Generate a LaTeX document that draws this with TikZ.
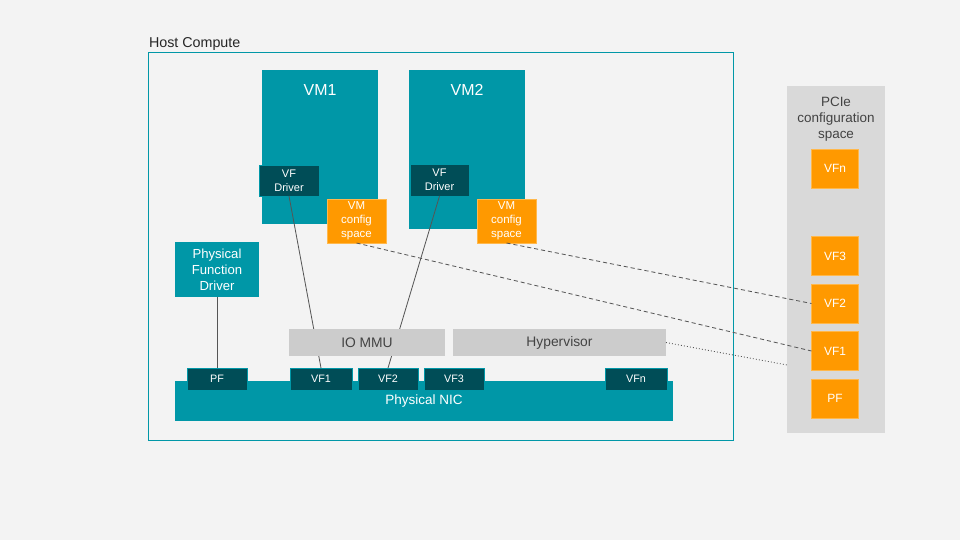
\documentclass[tikz,border=0pt]{standalone}
\usepackage{fontspec}
\setmainfont{Liberation Sans}
\usetikzlibrary{positioning}
\definecolor{nicteal}{RGB}{0,151,167}
\definecolor{darkteal}{RGB}{0,77,87}
\definecolor{cfgorange}{RGB}{255,153,0}
\definecolor{lightgrey}{RGB}{204,204,204}
\definecolor{panelgrey}{RGB}{217,217,217}
\definecolor{pagegrey}{RGB}{243,243,243}
\definecolor{wiregrey}{RGB}{85,85,85}
\definecolor{labelgrey}{RGB}{67,67,67}

\begin{document}
\begin{tikzpicture}[x=0.03cm, y=-0.03cm, inner sep=0pt, outer sep=0pt,
    font=\fontsize{11.5}{13.6}\selectfont,
    box/.style 2 args={rectangle, minimum width=#1*0.03cm, minimum height=#2*0.03cm},
    tealbox/.style={fill=nicteal, text=white, align=center},
    portbox/.style={fill=darkteal, draw=nicteal, line width=0.6pt, text=white, align=center},
    cfgbox/.style={fill=cfgorange, draw=cfgorange!70, line width=0.4pt, text=white, align=center},
    greybox/.style={fill=lightgrey, text=labelgrey, font=\fontsize{11.8}{14}\selectfont},
    wire/.style={draw=wiregrey, line width=0.7pt},
    cfglink/.style={draw=wiregrey, line width=0.7pt, dash pattern=on 3.5pt off 2.5pt},
    hyplink/.style={draw=wiregrey, line width=0.7pt, dash pattern=on 0.8pt off 1.8pt}]
                % Page
                \fill[pagegrey] (0,0) rectangle (960,540);
                % Host Compute frame
                \node[box={585}{388}, draw=nicteal, line width=0.8pt] (host) at (440.5,246) {};
                \node[anchor=base west, font=\fontsize{12.2}{14}\selectfont, text=black!85] (hostlbl) at (149,48) {Host Compute};

                % Virtual machines
                \node[box={116}{154}, tealbox] (vm1) at (320,147) {};
                \node[box={116}{159}, tealbox] (vm2) at (467,149.5) {};
                \node[font=\fontsize{13.6}{16}\selectfont, text=white] (vm1lbl) at (320,90) {VM1};
                \node[font=\fontsize{13.6}{16}\selectfont, text=white] (vm2lbl) at (467,90) {VM2};
                \node[box={60}{31}, portbox, font=\fontsize{9.4}{11.6}\selectfont] (drv1) at (289,180.5) {VF\\Driver};
                \node[box={59}{32}, portbox, font=\fontsize{9.4}{11.6}\selectfont] (drv2) at (439.5,180) {VF\\Driver};
                \node[box={59}{44}, cfgbox, font=\fontsize{9.8}{11.9}\selectfont] (cfg1) at (356.5,221) {VM\\config\\space};
                \node[box={59}{44}, cfgbox, font=\fontsize{9.8}{11.9}\selectfont] (cfg2) at (506.5,221) {VM\\config\\space};

                % PF driver and NIC
                \node[box={84}{55}, tealbox, font=\fontsize{11.2}{13.6}\selectfont] (pfd) at (217,269.5) {Physical\\Function\\Driver};
                \node[box={498}{40}, tealbox] (nic) at (424,401) {};
                \node[text=white] (niclbl) at (424,401.5) {Physical NIC};
                \node[box={60}{22}, portbox, font=\fontsize{9.2}{11}\selectfont] (npf) at (217,379) {PF};
                \node[box={62}{22}, portbox, font=\fontsize{9.2}{11}\selectfont] (nvf1) at (321,379) {VF1};
                \node[box={60}{22}, portbox, font=\fontsize{9.2}{11}\selectfont] (nvf2) at (388,379) {VF2};
                \node[box={60}{22}, portbox, font=\fontsize{9.2}{11}\selectfont] (nvf3) at (454,379) {VF3};
                \node[box={62}{22}, portbox, font=\fontsize{9.2}{11}\selectfont] (nvfn) at (636,379) {VFn};

                \draw[wire] (pfd.south) -- (npf.north);
                \draw[wire] (drv1.south) -- (nvf1.north);
                \draw[wire] (drv2.south) -- (nvf2.north);

                % IO MMU and Hypervisor
                \node[box={156}{27}, greybox] (iommu) at (367,342.5) {IO MMU};
                \node[box={213}{27}, greybox] (hyp) at (559.5,342.5) {Hypervisor};

                % PCIe configuration space
                \node[box={98}{347}, fill=panelgrey] (pcie) at (836,259.5) {};
                \node[align=center, text=labelgrey, font=\fontsize{11.5}{13.6}\selectfont] (pcielbl) at (836,119.3) {PCIe\\configuration\\space};
                \node[box={47}{39}, cfgbox, font=\fontsize{10.2}{12}\selectfont] (cvfn) at (835,168.5) {VFn};
                \node[box={47}{39}, cfgbox, font=\fontsize{10.2}{12}\selectfont] (cvf3) at (835,256) {VF3};
                \node[box={47}{39}, cfgbox, font=\fontsize{10.2}{12}\selectfont] (cvf2) at (835,303.5) {VF2};
                \node[box={47}{39}, cfgbox, font=\fontsize{10.2}{12}\selectfont] (cvf1) at (835,351) {VF1};
                \node[box={47}{39}, cfgbox, font=\fontsize{10.2}{12}\selectfont] (cpf) at (835,398.5) {PF};
                \coordinate (pcieedge) at (787,365);

                \draw[cfglink] (cfg1.south) -- (cvf1.west);
                \draw[cfglink] (cfg2.south) -- (cvf2.west);
                \draw[hyplink] (hyp.east) -- (pcieedge);
            \end{tikzpicture}
\end{document}
